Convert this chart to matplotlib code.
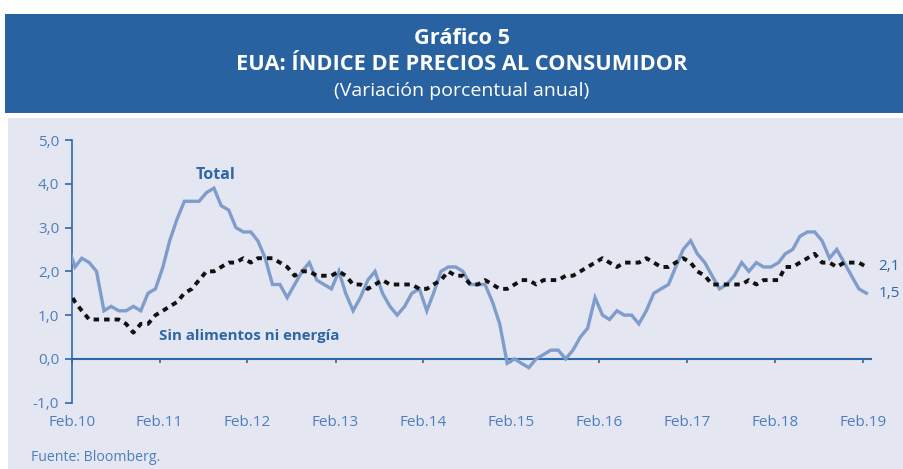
import numpy as np
import pandas as pd
import matplotlib
matplotlib.use('Agg')
from matplotlib import pyplot as plt
from matplotlib.patches import Rectangle

# IPC EUA, variacion anual (%), mensual desde ene-2010 hasta feb-2019
total = [2.6, 2.1, 2.3, 2.2, 2.0, 1.1, 1.2, 1.1, 1.1, 1.2, 1.1, 1.5,
         1.6, 2.1, 2.7, 3.2, 3.6, 3.6, 3.6, 3.8, 3.9, 3.5, 3.4, 3.0,
         2.9, 2.9, 2.7, 2.3, 1.7, 1.7, 1.4, 1.7, 2.0, 2.2, 1.8, 1.7,
         1.6, 2.0, 1.5, 1.1, 1.4, 1.8, 2.0, 1.5, 1.2, 1.0, 1.2, 1.5,
         1.6, 1.1, 1.5, 2.0, 2.1, 2.1, 2.0, 1.7, 1.7, 1.7, 1.3, 0.8,
         -0.1, 0.0, -0.1, -0.2, 0.0, 0.1, 0.2, 0.2, 0.0, 0.2, 0.5, 0.7,
         1.4, 1.0, 0.9, 1.1, 1.0, 1.0, 0.8, 1.1, 1.5, 1.6, 1.7, 2.1,
         2.5, 2.7, 2.4, 2.2, 1.9, 1.6, 1.7, 1.9, 2.2, 2.0, 2.2, 2.1,
         2.1, 2.2, 2.4, 2.5, 2.8, 2.9, 2.9, 2.7, 2.3, 2.5, 2.2, 1.9,
         1.6, 1.5]
core = [1.6, 1.3, 1.1, 0.9, 0.9, 0.9, 0.9, 0.9, 0.8, 0.6, 0.8, 0.8,
        1.0, 1.1, 1.2, 1.3, 1.5, 1.6, 1.8, 2.0, 2.0, 2.1, 2.2, 2.2,
        2.3, 2.2, 2.3, 2.3, 2.3, 2.2, 2.1, 1.9, 2.0, 2.0, 1.9, 1.9,
        1.9, 2.0, 1.9, 1.7, 1.7, 1.6, 1.7, 1.8, 1.7, 1.7, 1.7, 1.7,
        1.6, 1.6, 1.7, 1.8, 2.0, 1.9, 1.9, 1.7, 1.7, 1.8, 1.7, 1.6,
        1.6, 1.7, 1.8, 1.8, 1.7, 1.8, 1.8, 1.8, 1.9, 1.9, 2.0, 2.1,
        2.2, 2.3, 2.2, 2.1, 2.2, 2.2, 2.2, 2.3, 2.2, 2.1, 2.1, 2.2,
        2.3, 2.2, 2.0, 1.9, 1.7, 1.7, 1.7, 1.7, 1.7, 1.8, 1.7, 1.8,
        1.8, 1.8, 2.1, 2.1, 2.2, 2.3, 2.4, 2.2, 2.2, 2.1, 2.2, 2.2,
        2.2, 2.1]
dates = pd.date_range('2010-01-01', periods=len(total), freq='MS') + pd.Timedelta(days=14)
tick_years = list(range(2010, 2020))
tick_labels = ['Feb.%02d' % (y % 100) for y in tick_years]

band = '#2862a0'
lav = '#e4e6f1'
dark = '#2e67a6'
light = '#4d7fba'
line_total = '#7f9dcb'

fig = plt.figure(figsize=(9.04, 4.69), dpi=100)
W, H = 904., 469.
fig.patches.append(Rectangle((5 / W, 1 - 113 / H), 1, 99 / H, transform=fig.transFigure,
                             facecolor=band, edgecolor='none', zorder=-5))
fig.patches.append(Rectangle((8 / W, 0), 1, 1 - 117.5 / H, transform=fig.transFigure,
                             facecolor=lav, edgecolor='none', zorder=-5))

cx = 462 / W
fig.text(cx, 1 - 38 / H, 'Gráfico 5', ha='center', va='center', color='white',
         fontsize=15.7, fontweight='bold', family='Open Sans')
fig.text(cx, 1 - 64 / H, 'EUA: ÍNDICE DE PRECIOS AL CONSUMIDOR', ha='center', va='center',
         color='white', fontsize=15.7, fontweight='bold', family='Open Sans')
fig.text(cx, 1 - 91 / H, '(Variación porcentual anual)', ha='center', va='center',
         color='white', fontsize=14, family='Open Sans')

ax = fig.add_axes([71.7 / W, 1 - 402.7 / H, 799 / W, 262.7 / H])
ax.patch.set_alpha(0)
ax.plot(dates, total, color=line_total, lw=2.4, solid_joinstyle='miter', zorder=3)
ax.plot(dates, core, color='#111111', lw=2.8, ls=(0, (1.4, 1.3)), zorder=4)

ax.set_xlim(pd.Timestamp('2010-02-01'), pd.Timestamp('2019-03-05'))
ax.set_ylim(-1, 5)
for s in ['top', 'right']:
    ax.spines[s].set_visible(False)
ax.spines['left'].set_color(dark)
ax.spines['left'].set_linewidth(1.2)
ax.spines['bottom'].set_position(('data', 0))
ax.spines['bottom'].set_color(dark)
ax.spines['bottom'].set_linewidth(1.5)

ax.set_yticks(np.arange(-1, 6, 1))
ax.set_yticklabels([('%.1f' % v).replace('.', ',') for v in np.arange(-1, 6, 1)])
ax.tick_params(axis='y', direction='out', length=5, width=1.2, color=dark,
               labelcolor=light, labelsize=11, pad=4)
xt = [pd.Timestamp('%d-02-01' % y) for y in tick_years]
ax.set_xticks(xt)
ax.set_xticklabels([])
ax.tick_params(axis='x', direction='out', length=3, width=1.2, color=dark)

sec = ax.secondary_xaxis('bottom')
sec.set_xticks(xt)
sec.set_xticklabels(tick_labels)
sec.spines['bottom'].set_visible(False)
sec.tick_params(axis='x', length=0, labelcolor=light, labelsize=11, pad=9)

for lab in ax.get_yticklabels() + sec.get_xticklabels():
    lab.set_family('Open Sans')

ax.text(pd.Timestamp('2011-09-20'), 4.2, 'Total', color=dark, fontsize=11.5,
        fontweight='bold', ha='center', va='center', family='Open Sans')
ax.text(pd.Timestamp('2011-01-28'), 0.52, 'Sin alimentos ni energía', color=dark, fontsize=10.8,
        fontweight='bold', ha='left', va='center', family='Open Sans')
ax.text(1.01, core[-1], ('%.1f' % core[-1]).replace('.', ','), transform=ax.get_yaxis_transform(),
        color=dark, fontsize=11, ha='left', va='center', family='Open Sans', clip_on=False)
ax.text(1.01, total[-1], ('%.1f' % total[-1]).replace('.', ','), transform=ax.get_yaxis_transform(),
        color=dark, fontsize=11, ha='left', va='center', family='Open Sans', clip_on=False)

fig.text(31 / W, 1 - 457 / H, 'Fuente: Bloomberg.', color=light, fontsize=10.2,
         ha='left', va='center', family='Open Sans')

fig.savefig('out.png', dpi=100)
